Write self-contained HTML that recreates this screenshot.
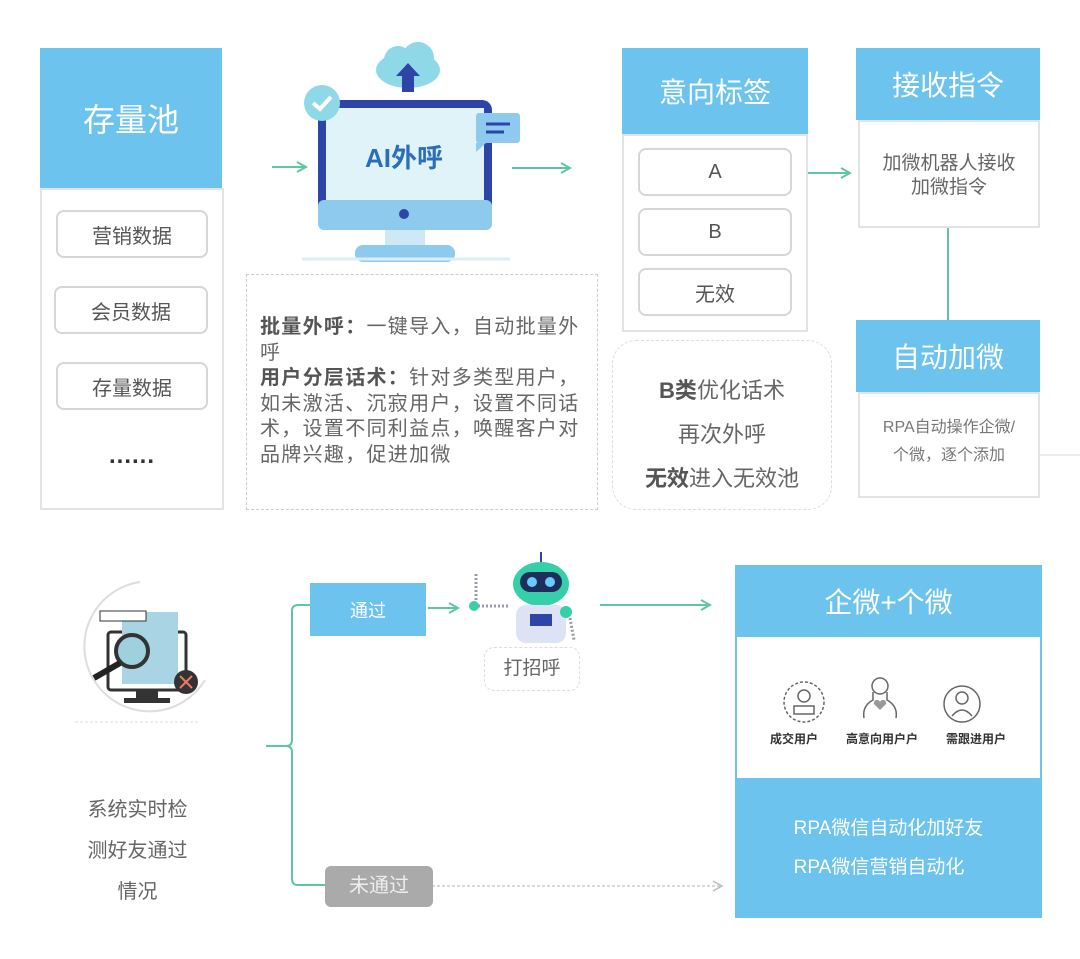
<!DOCTYPE html>
<html><head><meta charset="utf-8"><style>
body{margin:0;width:1080px;height:959px;background:#fff;position:relative;overflow:hidden;font-family:"Liberation Sans","Noto Sans CJK SC",sans-serif;color:#555}
div{position:absolute;box-sizing:border-box}
.hd{background:#6cc3ee;color:#fff;display:flex;align-items:center;justify-content:center}
.bd{border:2px solid #e3e3e3;background:#fff}
.it{border:2px solid #d6d6d6;border-radius:8px;display:flex;align-items:center;justify-content:center;font-size:20px;color:#555;background:#fff}
.c{text-align:center}
</style></head><body>
<svg width="1080" height="959" style="position:absolute;left:0;top:0">
<defs><marker id="a" markerWidth="12" markerHeight="12" refX="10" refY="6" orient="auto" markerUnits="userSpaceOnUse"><path d="M1,1 L10,6 L1,11" fill="none" stroke="#5ec7a0" stroke-width="2"/></marker>
<marker id="g" markerWidth="12" markerHeight="12" refX="10" refY="6" orient="auto" markerUnits="userSpaceOnUse"><path d="M1,1 L10,6 L1,11" fill="none" stroke="#bbb" stroke-width="1.5"/></marker></defs>
<g stroke="#5ec7a0" stroke-width="2" fill="none">
<line x1="272" y1="167" x2="306" y2="167" marker-end="url(#a)"/>
<line x1="512" y1="168" x2="570" y2="168" marker-end="url(#a)"/>
<line x1="792" y1="173" x2="850" y2="173" marker-end="url(#a)"/>
<line x1="948" y1="228" x2="948" y2="320"/>
<line x1="428" y1="608" x2="458" y2="608" marker-end="url(#a)"/>
<line x1="600" y1="605" x2="710" y2="605" marker-end="url(#a)"/>
<path d="M310,605 H298 Q292,605 292,611 V740 Q292,746 286,746 H266 M286,746 Q292,746 292,752 V879 Q292,885 298,885 H325"/>
</g>
<line x1="1040" y1="455" x2="1080" y2="455" stroke="#e5e5e5" stroke-width="1.5"/>
<line x1="432" y1="886" x2="722" y2="886" stroke="#ccc" stroke-width="1.5" stroke-dasharray="3,2" marker-end="url(#g)"/>
<line x1="75" y1="722" x2="200" y2="722" stroke="#ddd" stroke-dasharray="3,2"/>
<ellipse cx="408" cy="70" rx="32" ry="18" fill="#8fd8e8"/><circle cx="398" cy="60" r="14" fill="#8fd8e8"/><circle cx="418" cy="58" r="16" fill="#8fd8e8"/>
<path d="M402,92 V76 H396 L408,63 L420,76 H414 V92Z" fill="#2e45a8"/>
<rect x="318" y="100" width="174" height="130" rx="10" fill="#2e45a8"/>
<rect x="326" y="108" width="158" height="100" fill="#dff3f8"/>
<rect x="318" y="200" width="174" height="30" rx="6" fill="#8ec9ee"/>
<circle cx="404" cy="214" r="5" fill="#2e45a8"/>
<rect x="385" y="230" width="40" height="20" fill="#cfe8f5"/>
<rect x="355" y="245" width="100" height="17" rx="8" fill="#8ec9ee"/>
<line x1="302" y1="259" x2="510" y2="259" stroke="#dbeef8" stroke-width="3"/>
<circle cx="322" cy="103" r="18" fill="#8fd8e8"/><path d="M313,103 l7,6 l11,-12" stroke="#fff" stroke-width="4" fill="none"/>
<rect x="476" y="113" width="44" height="30" rx="3" fill="#8ec9ee"/><path d="M476,143 V152 L486,143Z" fill="#8ec9ee"/>
<line x1="486" y1="124" x2="510" y2="124" stroke="#2e45a8" stroke-width="3"/><line x1="486" y1="132" x2="504" y2="132" stroke="#2e45a8" stroke-width="3"/>
<text x="404" y="167" text-anchor="middle" font-size="26" font-weight="bold" fill="#2a6fb8" font-family="Liberation Sans,Noto Sans CJK SC,sans-serif">AI外呼</text>
<path d="M140,582 A65,65 0 1,0 205,680" fill="none" stroke="#ddd" stroke-width="2"/>
<rect x="108" y="632" width="78" height="58" rx="3" fill="#fff" stroke="#333" stroke-width="3"/>
<rect x="136" y="690" width="22" height="10" fill="#333"/><rect x="124" y="698" width="46" height="5" fill="#333"/>
<rect x="122" y="612" width="56" height="72" fill="#a8d4e4"/>
<rect x="100" y="611" width="46" height="10" fill="#fff" stroke="#333"/>
<circle cx="132" cy="651" r="16" fill="#9fd0de" stroke="#333" stroke-width="4"/>
<line x1="120" y1="663" x2="94" y2="678" stroke="#222" stroke-width="6"/>
<circle cx="186" cy="682" r="12" fill="#333"/><path d="M180,676 l12,12 M192,676 l-12,12" stroke="#e76" stroke-width="2"/>
<line x1="541" y1="552" x2="541" y2="562" stroke="#2e45a8" stroke-width="2"/>
<ellipse cx="541" cy="584" rx="28" ry="22" fill="#35d0a9"/>
<rect x="520" y="572" width="42" height="20" rx="10" fill="#1f2d5c"/>
<circle cx="532" cy="582" r="5" fill="#6cf"/><circle cx="550" cy="582" r="5" fill="#6cf"/>
<rect x="516" y="605" width="50" height="38" rx="10" fill="#dde3f5"/>
<rect x="530" y="614" width="22" height="12" fill="#2e45a8"/>
<circle cx="474" cy="606" r="5" fill="#35d0a9"/><circle cx="566" cy="612" r="6" fill="#35d0a9"/>
<line x1="476" y1="574" x2="476" y2="600" stroke="#99a" stroke-width="3" stroke-dasharray="2,2"/>
<line x1="478" y1="606" x2="510" y2="606" stroke="#99a" stroke-width="3" stroke-dasharray="2,2"/>
<line x1="570" y1="618" x2="574" y2="640" stroke="#99a" stroke-width="3" stroke-dasharray="2,2"/>
<g fill="none" stroke="#666" stroke-width="1.5">
<circle cx="804" cy="702" r="20" stroke-dasharray="3,2"/><circle cx="804" cy="696" r="6"/><path d="M794,714 v-8 h20 v8z"/>
<circle cx="880" cy="686" r="8"/><path d="M873,692 V700 Q862,706 864,718 M887,692 V700 Q898,706 896,718"/>
<circle cx="962" cy="704" r="18"/><circle cx="962" cy="698" r="6"/><path d="M952,716 Q962,704 972,716"/>
</g>
<path d="M874,704 l6,6 l6,-6 a3,3 0 0 0 -6,-2 a3,3 0 0 0 -6,2z" fill="#999"/>
</svg>

<div class="hd" style="left:40px;top:48px;width:182px;height:140px;font-size:32px">存量池</div>
<div class="bd" style="left:40px;top:188px;width:184px;height:322px"></div>
<div class="it" style="left:56px;top:210px;width:152px;height:48px">营销数据</div>
<div class="it" style="left:54px;top:286px;width:154px;height:48px">会员数据</div>
<div class="it" style="left:56px;top:362px;width:152px;height:48px">存量数据</div>
<div class="c" style="left:56px;top:442px;width:152px;font-size:24px;font-weight:bold;color:#333;letter-spacing:1px">......</div>

<div style="left:246px;top:274px;width:352px;height:236px;border:1.5px dashed #ccc;"></div>
<div style="left:260px;top:315px;width:325px;font-size:20px;letter-spacing:1.3px;line-height:25.5px;color:#666;word-break:break-all">
<b style="color:#555">批量外呼：</b>一键导入，自动批量外呼<br><b style="color:#555">用户分层话术：</b>针对多类型用户，如未激活、沉寂用户，设置不同话术，设置不同利益点，唤醒客户对品牌兴趣，促进加微</div>

<div class="hd" style="left:622px;top:48px;width:186px;height:86px;font-size:28px">意向标签</div>
<div class="bd" style="left:622px;top:134px;width:186px;height:198px"></div>
<div class="it" style="left:638px;top:148px;width:154px;height:48px">A</div>
<div class="it" style="left:638px;top:208px;width:154px;height:48px">B</div>
<div class="it" style="left:638px;top:268px;width:154px;height:48px">无效</div>

<div class="c" style="left:612px;top:340px;width:220px;height:170px;border:1.5px dashed #ddd;border-radius:24px;padding-top:28px;font-size:22px;line-height:44px;color:#666"><b style="color:#555">B类</b>优化话术<br>再次外呼<br><b style="color:#555">无效</b>进入无效池</div>

<div class="hd" style="left:856px;top:48px;width:184px;height:72px;font-size:28px">接收指令</div>
<div class="bd c" style="left:858px;top:120px;width:182px;height:108px;padding-top:30px;font-size:19px;line-height:24px;color:#666">加微机器人接收<br>加微指令</div>
<div class="hd" style="left:856px;top:320px;width:184px;height:72px;font-size:28px">自动加微</div>
<div class="bd c" style="left:858px;top:392px;width:182px;height:106px;padding-top:20px;font-size:16px;line-height:28px;color:#777">RPA自动操作企微/<br>个微，逐个添加</div>

<div class="c" style="left:70px;top:790px;width:135px;font-size:20px;line-height:41px;color:#666">系统实时检<br>测好友通过<br>情况</div>

<div class="hd" style="left:310px;top:583px;width:116px;height:53px;font-size:18px">通过</div>
<div class="c" style="left:325px;top:866px;width:108px;height:41px;background:#aaa;border-radius:6px;color:#eee;font-size:20px;line-height:41px">未通过</div>
<div class="c" style="left:484px;top:647px;width:96px;height:44px;border:1.5px dashed #ddd;border-radius:10px;font-size:19px;line-height:42px;color:#666">打招呼</div>

<div class="hd" style="left:735px;top:565px;width:307px;height:72px;font-size:28px">企微+个微</div>
<div style="left:735px;top:636px;width:307px;height:144px;border:2px solid #6cc3ee;border-top:none;border-bottom:none"></div>
<div style="left:748px;top:730px;width:280px;font-size:12px;font-weight:bold;color:#333;display:flex;justify-content:space-between;padding:0 22px"><span>成交用户</span><span>高意向用户户</span><span>需跟进用户</span></div>
<div class="hd" style="left:735px;top:778px;width:307px;height:140px;font-size:19px;line-height:39px;flex-direction:column">RPA微信自动化加好友<br>RPA微信营销自动化</div>
</body></html>
